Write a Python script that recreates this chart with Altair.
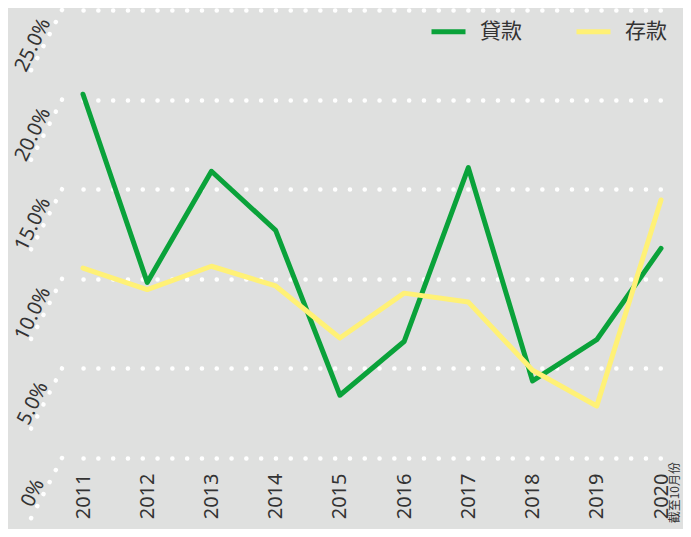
import altair as alt
import pandas as pd

years = ["2011", "2012", "2013", "2014", "2015", "2016", "2017", "2018", "2019", "2020"]
loans = [20.3, 9.8, 16.0, 12.7, 3.5, 6.5, 16.2, 4.3, 6.6, 11.7]
deposits = [10.6, 9.4, 10.7, 9.6, 6.7, 9.2, 8.7, 4.9, 2.9, 14.4]
series_names = ["貸款", "存款"]
series_colors = ["#0aa23a", "#fff176"]
tick_values = [0, 5, 10, 15, 20, 25]
tick_labels = ["0%", "5.0%", "10.0%", "15.0%", "20.0%", "25.0%"]
note_year = ["2020"]
note_text = ["截至10月份"]

df = pd.DataFrame({
    "year": years + years,
    "value": loans + deposits,
    "series": [series_names[0]] * len(years) + [series_names[1]] * len(years),
})
ticks = pd.DataFrame({"v": tick_values, "label": tick_labels})
note = pd.DataFrame({"year": note_year, "text": note_text})

W, H = 621, 448
xscale = alt.Scale(domain=years, range=[21, 599], padding=0)
yscale = alt.Scale(domain=[0, 25], nice=False, zero=True)

TXT = "#333333"
LATIN = "Noto Sans"
CJK = "Noto Sans CJK TC"

y_axis = alt.Axis(values=tick_values, grid=True, labels=False, ticks=False,
                  domain=False, title=None, gridColor="white",
                  gridDash=[0.1, 14.7], gridWidth=4.5, gridCap="round",
                  gridOpacity=1)
x_axis = alt.Axis(title=None, labelAngle=270, domain=False, ticks=False,
                  labelPadding=15, labelFontSize=20, labelColor=TXT,
                  labelFont=LATIN, grid=False, labelAlign="right",
                  labelBaseline="middle")

diag = alt.Chart(ticks).mark_rule(
    color="white", strokeWidth=4.5, strokeCap="round", strokeDash=[0.1, 13.4],
    y2Offset=72
).encode(
    x=alt.value(0), x2=alt.value(-37),
    y=alt.Y("v:Q", scale=yscale, axis=y_axis), y2="v:Q",
)

ylabels = alt.Chart(ticks).mark_text(
    angle=296, fontSize=20, color=TXT, font=LATIN, align="center",
    baseline="middle", yOffset=35
).encode(
    x=alt.value(-29),
    y=alt.Y("v:Q", scale=yscale, axis=y_axis),
    text="label:N",
)

lines = alt.Chart(df).mark_line(strokeWidth=5, strokeCap="round", strokeJoin="round").encode(
    x=alt.X("year:O", scale=xscale, axis=x_axis),
    y=alt.Y("value:Q", scale=yscale, axis=y_axis),
    color=alt.Color("series:N",
                    scale=alt.Scale(domain=series_names, range=series_colors),
                    legend=alt.Legend(title=None, orient="none", legendX=367, legendY=2,
                                      direction="horizontal", symbolType="stroke",
                                      symbolSize=1156, symbolStrokeWidth=5,
                                      labelFontSize=21, labelColor=TXT, labelFont=CJK,
                                      labelOffset=12, columnPadding=44, padding=0)),
    order=alt.Order("year:O"),
)

note_layer = alt.Chart(note).mark_text(
    angle=270, align="right", baseline="middle", fontSize=12, color=TXT,
    font=CJK, xOffset=14
).encode(
    x=alt.X("year:O", scale=xscale, axis=x_axis),
    y=alt.value(H + 4),
    text="text:N",
)

chart = alt.layer(diag, ylabels, lines, note_layer).properties(
    width=W, height=H,
    autosize=alt.AutoSizeParams(type="none"),
    padding={"left": 54, "top": 2, "right": 0, "bottom": 71},
).configure(background="#dfe0df").configure_view(stroke=None)

chart.save("out.html", embed_options={"renderer": "svg", "actions": False})
